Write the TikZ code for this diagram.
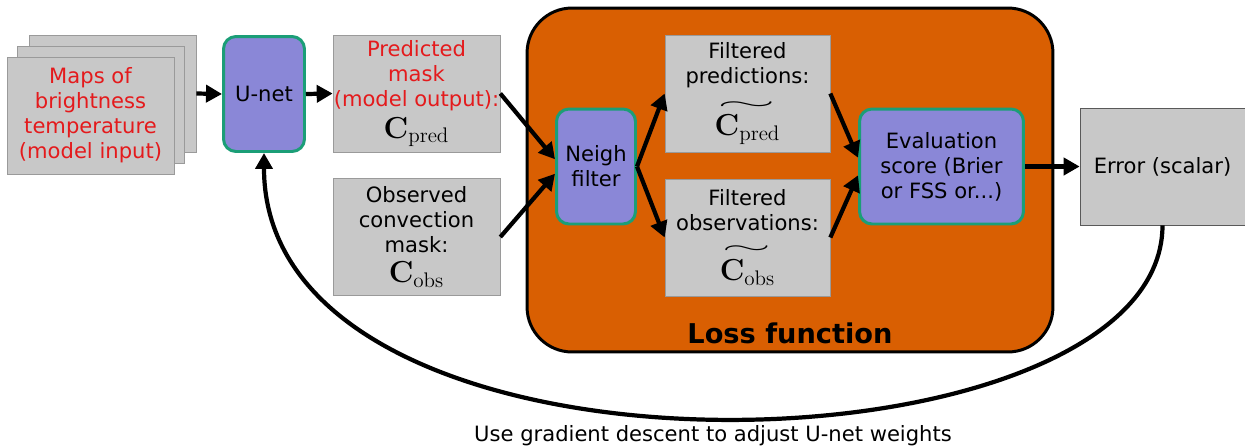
\documentclass[tikz,border=0pt]{standalone}
\usepackage[no-math]{fontspec}
\usepackage{amsmath,graphicx}
\setmainfont{DejaVu Sans}
\usetikzlibrary{arrows.meta}
\definecolor{boxgray}{HTML}{C8C8C8}
\definecolor{edgegray}{HTML}{9A9A9A}
\definecolor{netpurple}{HTML}{8A87D7}
\definecolor{netgreen}{HTML}{1B9E77}
\definecolor{lossorange}{HTML}{D95F02}
\definecolor{mapred}{HTML}{E41A1C}
\newcommand{\masksym}[1]{{\fontsize{16.5}{18}\selectfont$#1$}}
\newcommand{\filtsym}[2]{\overset{\scalebox{#2}[1]{$\scriptstyle\sim$}}{#1}}

\begin{document}
\begin{tikzpicture}[x=0.02cm, y=-0.02cm, font=\fontsize{12}{14.2}\selectfont,
  gray box/.style={rectangle,draw=edgegray,fill=boxgray,minimum width=3.34cm,minimum height=2.34cm,inner sep=0pt,align=center},
  net node/.style={rectangle,rounded corners=0.25cm,draw=netgreen,line width=1.7pt,fill=netpurple,minimum height=2.3cm,inner sep=0pt,align=center},
  flow/.style={line width=2.4pt,-{Triangle[length=0.32cm,width=0.34cm]}}]

      \useasboundingbox (0,0) rectangle (1245,447);

      % loss function frame
      \node[rectangle,rounded corners=0.9cm,draw=black,line width=1.7pt,fill=lossorange,minimum width=10.52cm,minimum height=6.88cm] (loss) at (790,180) {};
      \node[font=\fontsize{15.5}{18}\selectfont\bfseries] (losslabel) at (790,333) {Loss function};

      % input stack
      \node[gray box] (maps3) at (112.5,93.5) {};
      \node[gray box] (maps2) at (101,104.5) {};
      \node[gray box,text=mapred] (maps) at (90.5,115.5) {Maps of\\brightness\\temperature\\(model input)};

      \node[net node,minimum width=1.62cm] (unet) at (264,94) {U-net};
      \node[gray box,text=mapred] (pred) at (416.5,93.5) {Predicted\\mask\\(model output):\\[3pt]{\color{black}\masksym{\mathbf{C}_{\mathrm{pred}}}}};
      \node[gray box] (obs) at (416.5,237) {Observed\\convection\\mask:\\[3pt]\masksym{\mathbf{C}_{\mathrm{obs}}}};

      \node[net node,minimum width=1.58cm] (neigh) at (596,166.5) {Neigh\\filter};
      \node[gray box,minimum width=3.3cm] (fpred) at (747.5,93.5) {Filtered\\predictions:\\[5pt]\masksym{\filtsym{\mathbf{C}_{\mathrm{pred}}}{3.6}}};
      \node[gray box,minimum width=3.3cm] (fobs) at (747.5,237.5) {Filtered\\observations:\\[6pt]\masksym{\filtsym{\mathbf{C}_{\mathrm{obs}}}{3}}};
      \node[net node,minimum width=3.28cm] (eval) at (941.5,166.5) {Evaluation\\score (Brier\\or FSS or...)};

      \node[gray box,draw=black!65,minimum width=3.3cm] (err) at (1162.5,166.5) {Error (scalar)};

      \node (gradtext) at (713,436) {Use gradient descent to adjust U-net weights};

      \draw[flow] (maps3.east) -- (unet.west);
      \draw[flow] (unet.east) -- (pred.west);
      \draw[flow] (pred.east) -- (neigh.170);
      \draw[flow] (obs.east) -- (neigh.190);
      \draw[flow] (neigh.east) -- (fpred.west);
      \draw[flow] (neigh.east) -- (fobs.west);
      \draw[flow] (fpred.east) -- (eval.174);
      \draw[flow] (fobs.east) -- (eval.186);
      \draw[flow] (eval.east) -- (err.west);
      \draw[flow] (err.south) .. controls +(0,255) and +(0,355) .. (unet.south);

\end{tikzpicture}
\end{document}
